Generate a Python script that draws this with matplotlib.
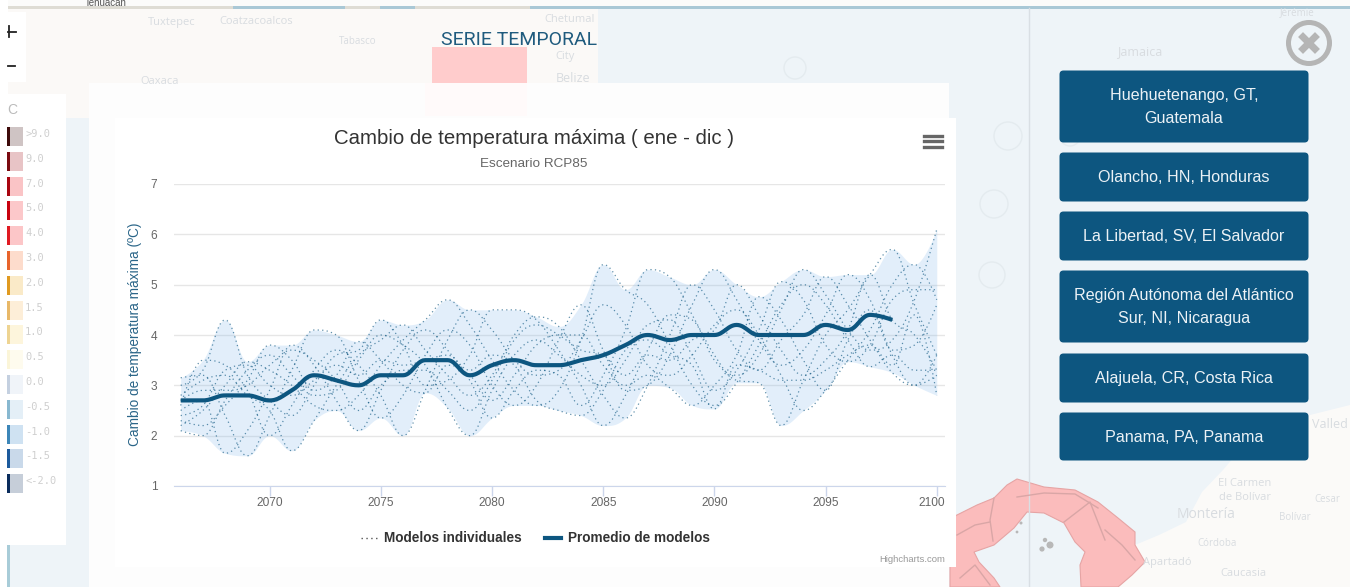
import matplotlib
matplotlib.use('Agg')
import matplotlib.pyplot as plt
from matplotlib.patches import Rectangle, FancyBboxPatch, Polygon, Circle
from matplotlib.lines import Line2D
from matplotlib.transforms import ScaledTranslation
import numpy as np

plt.rcParams['font.family'] = ['Liberation Sans', 'DejaVu Sans']

years = list(range(2066, 2101))
mean_years = list(range(2066, 2099))
mean_vals = [2.7, 2.7, 2.8, 2.8, 2.7, 2.9, 3.2, 3.1, 3.0, 3.2, 3.2, 3.5, 3.5, 3.2, 3.4, 3.5, 3.4,
             3.4, 3.5, 3.6, 3.8, 4.0, 3.9, 4.0, 4.0, 4.2, 4.0, 4.0, 4.0, 4.2, 4.1, 4.4, 4.3]
range_high = [3.15, 3.5, 4.3, 3.47, 3.8, 3.8, 4.1, 4.0, 3.87, 4.3, 4.2, 4.3, 4.7, 4.5, 4.5, 4.5, 4.36, 4.17,
              4.6, 5.4, 4.9, 5.3, 5.15, 5.0, 5.3, 5.0, 4.76, 5.06, 5.3, 5.16, 5.2, 5.2, 5.7, 5.4, 6.1]
range_low = [2.1, 2.0, 1.65, 1.6, 2.0, 1.7, 2.3, 2.5, 2.1, 2.35, 2.0, 2.85, 2.55, 2.0, 2.35, 2.6, 2.6, 2.5,
             2.4, 2.2, 2.35, 3.0, 2.95, 2.6, 2.53, 3.05, 3.05, 2.2, 2.5, 2.9, 3.47, 3.37, 3.25, 3.0, 2.8]

model_a = [3.0, 3.3, 4.3, 3.2, 2.7, 2.4, 3.0, 3.6, 3.7, 4.3, 3.8, 3.0, 3.1, 3.6, 4.5, 4.5, 4.3, 3.7,
           3.0, 2.2, 2.8, 3.7, 4.4, 4.3, 3.5, 3.2, 3.6, 4.5, 5.3, 4.8, 4.1, 3.7, 3.9, 4.7, 6.1]
model_b = [2.2, 2.5, 3.0, 3.47, 3.3, 3.0, 2.6, 2.5, 2.8, 3.4, 3.9, 4.3, 4.7, 4.2, 3.5, 2.9, 2.6, 2.9,
           3.9, 5.4, 4.9, 4.6, 3.8, 3.0, 2.6, 3.05, 3.8, 4.6, 5.0, 4.6, 3.9, 3.37, 3.6, 3.3, 3.3]
model_c = [2.6, 3.5, 3.4, 2.9, 2.0, 2.6, 3.3, 3.7, 3.4, 2.8, 2.0, 2.9, 3.9, 4.5, 4.1, 3.5, 3.2, 3.3,
           3.9, 4.6, 4.2, 3.4, 3.2, 3.6, 4.2, 4.5, 4.0, 3.2, 2.5, 2.9, 3.5, 4.1, 5.0, 5.4, 4.7]
model_d = [3.15, 3.2, 2.4, 1.6, 2.4, 3.3, 4.1, 4.0, 3.1, 2.35, 2.8, 3.6, 4.1, 3.8, 3.0, 2.6, 3.0, 3.9,
           4.6, 3.7, 2.9, 3.0, 3.6, 4.6, 5.3, 4.7, 3.9, 3.4, 3.7, 4.4, 5.2, 4.7, 3.6, 3.0, 3.6]
model_e = [2.1, 2.0, 2.7, 3.3, 3.6, 3.2, 2.8, 2.9, 3.5, 4.0, 3.8, 3.4, 2.55, 2.0, 2.9, 3.6, 3.9, 3.6,
           3.2, 3.0, 3.5, 4.2, 4.3, 3.6, 2.9, 3.3, 4.1, 5.06, 4.7, 3.8, 3.47, 3.8, 4.7, 4.9, 4.9]
model_f = [2.5, 2.7, 1.65, 2.1, 2.9, 3.8, 3.4, 2.7, 2.1, 2.9, 3.7, 4.1, 3.7, 3.1, 2.35, 2.9, 3.3, 3.2,
           2.6, 3.2, 4.1, 5.3, 5.15, 4.4, 3.6, 3.1, 3.05, 2.2, 3.1, 4.0, 4.5, 5.2, 5.7, 4.6, 3.6]
model_g = [2.8, 3.1, 3.2, 2.8, 2.5, 1.7, 2.3, 3.0, 3.6, 3.9, 4.2, 3.7, 3.2, 2.8, 3.2, 4.0, 4.36, 4.17,
           3.5, 2.8, 2.35, 3.0, 4.0, 5.0, 4.5, 3.7, 3.3, 3.9, 4.4, 5.16, 4.6, 3.9, 3.25, 3.0, 3.2]
model_h = [2.3, 2.2, 2.6, 3.1, 3.8, 3.5, 2.9, 3.2, 3.87, 3.5, 3.0, 2.85, 3.4, 3.2, 2.7, 3.2, 3.8, 4.0,
           4.0, 3.4, 3.0, 3.2, 2.95, 2.6, 3.0, 3.6, 4.76, 4.3, 3.5, 2.9, 3.9, 4.5, 3.7, 3.8, 4.6]
model_i = [2.7, 2.9, 2.9, 3.0, 3.4, 3.7, 3.5, 3.1, 2.5, 3.0, 3.3, 3.3, 2.9, 2.5, 3.1, 3.9, 4.2, 4.0,
           3.7, 3.6, 3.2, 3.6, 3.5, 3.9, 4.1, 5.0, 4.4, 3.7, 3.2, 3.5, 4.1, 5.2, 4.3, 4.0, 3.3]
model_j = [2.4, 2.6, 3.3, 3.4, 3.0, 2.8, 3.1, 3.4, 3.2, 3.5, 3.4, 3.5, 3.6, 3.3, 3.6, 3.4, 2.7, 2.5,
           2.4, 2.9, 3.7, 3.9, 3.6, 3.4, 2.53, 3.4, 3.3, 3.1, 3.1, 3.3, 3.6, 3.8, 3.4, 4.4, 2.8]
models = [model_a, model_b, model_c, model_d, model_e, model_f, model_g, model_h, model_i, model_j]

x_ticks = [2070, 2075, 2080, 2085, 2090, 2095, 2100]
y_ticks = [1, 2, 3, 4, 5, 6, 7]
legend_labels = ['>9.0', '9.0', '7.0', '5.0', '4.0', '3.0', '2.0', '1.5', '1.0', '0.5', '0.0', '-0.5', '-1.0', '-1.5', '<-2.0']
legend_dark = ['#3d0a0a', '#7a0a10', '#a80510', '#c8020f', '#e01a22', '#e8642c', '#e09a20', '#e8b868', '#eed492',
               '#fbf5d8', '#c4d0e0', '#88b8d0', '#3c86b8', '#1c5a9c', '#0a2c5c']
legend_light = ['#cfc4c4', '#e8c4c6', '#fac4c6', '#fcc8ca', '#fcc6c8', '#fddccc', '#faeac8', '#fdeed8', '#fdf5dc',
                '#fefbee', '#f0f4f9', '#e4eff7', '#cfe2f2', '#c9d9ea', '#c6ced9']
buttons = [(71, 142, 'Huehuetenango, GT,\nGuatemala'), (153, 201, 'Olancho, HN, Honduras'),
           (212, 260, 'La Libertad, SV, El Salvador'), (271, 342, 'Región Autónoma del Atlántico\nSur, NI, Nicaragua'),
           (354, 402, 'Alajuela, CR, Costa Rica'), (413, 460, 'Panama, PA, Panama')]
map_names = [(172, 22, 'Tuxtepec', 8), (256, 21, 'Coatzacoalcos', 8), (358, 41, 'Tabasco', 7), (570, 19, 'Chetumal', 8),
             (565, 56, 'City', 8), (573, 79, 'Belize', 9), (160, 81, 'Oaxaca', 8), (1140, 52, 'Jamaica', 9),
             (1330, 425, 'Valled', 9), (1245, 484, 'El Carmen', 8), (1245, 497, 'de Bolívar', 8), (1206, 515, 'Montería', 10),
             (1295, 517, 'Bolívar', 7), (1217, 544, 'Córdoba', 7), (1243, 574, 'Caucasia', 8), (1167, 562, 'Apartadó', 8),
             (1327, 499, 'Cesar', 7), (1297, 13, 'Jérémie', 7)]


def spline(x, y, smooth=1.5):
    # same control points as a highcharts spline
    xs, ys = [], []
    x = list(x)
    y = list(y)
    cp = []
    for i in range(len(x)):
        if i == 0 or i == len(x) - 1:
            cp.append((x[i], y[i], x[i], y[i]))
            continue
        lx = (smooth * x[i] + x[i - 1]) / (smooth + 1)
        ly = (smooth * y[i] + y[i - 1]) / (smooth + 1)
        rx = (smooth * x[i] + x[i + 1]) / (smooth + 1)
        ry = (smooth * y[i] + y[i + 1]) / (smooth + 1)
        if rx != lx:
            c = (ry - ly) / (rx - lx)
            ly = c * (lx - x[i]) + y[i]
            ry = c * (rx - x[i]) + y[i]
        if ly > max(y[i - 1], y[i]):
            ly = max(y[i - 1], y[i])
            ry = 2 * y[i] - ly
        elif ly < min(y[i - 1], y[i]):
            ly = min(y[i - 1], y[i])
            ry = 2 * y[i] - ly
        if ry > max(y[i + 1], y[i]):
            ry = max(y[i + 1], y[i])
            ly = 2 * y[i] - ry
        elif ry < min(y[i + 1], y[i]):
            ry = min(y[i + 1], y[i])
            ly = 2 * y[i] - ry
        cp.append((lx, ly, rx, ry))
    t = np.linspace(0, 1, 16)
    for i in range(len(x) - 1):
        x0, y0 = x[i], y[i]
        x3, y3 = x[i + 1], y[i + 1]
        x1, y1 = cp[i][2], cp[i][3]
        x2, y2 = cp[i + 1][0], cp[i + 1][1]
        xs.extend((1 - t) ** 3 * x0 + 3 * (1 - t) ** 2 * t * x1 + 3 * (1 - t) * t ** 2 * x2 + t ** 3 * x3)
        ys.extend((1 - t) ** 3 * y0 + 3 * (1 - t) ** 2 * t * y1 + 3 * (1 - t) * t ** 2 * y2 + t ** 3 * y3)
    return np.array(xs), np.array(ys)


fig = plt.figure(figsize=(13.5, 5.87), dpi=100)
fig.patch.set_facecolor('#eef4f8')

# page behind the chart, in pixels
bg = fig.add_axes([0, 0, 1, 1], zorder=0)
bg.set_xlim(0, 1350)
bg.set_ylim(587, 0)
bg.axis('off')

bg.add_patch(Rectangle((0, 0), 1350, 6, fc='#fbfbfa', ec='none'))
bg.add_patch(Rectangle((8, 8), 590, 110, fc='#fbf9f7', ec='none'))
bg.add_patch(Rectangle((0, 5.5), 1350, 3, fc='#a9c8d6', ec='none'))
bg.add_patch(Rectangle((8, 5.5), 225, 3, fc='#dedcd4', ec='none'))
bg.add_patch(Rectangle((345, 5.5), 35, 3, fc='#dedcd4', ec='none'))
bg.add_patch(Rectangle((415, 5.5), 115, 3, fc='#dedcd4', ec='none'))
bg.text(106, 3, 'Tehuacán', fontsize=7, color='#555555', ha='center', va='center')
bg.add_patch(Rectangle((0, 0), 8, 587, fc='#ffffff', ec='none'))
bg.add_patch(Rectangle((7, 545), 3, 42, fc='#a8ccd8', ec='none'))
bg.add_patch(Rectangle((66, 120), 24, 467, fc='#eef4f8', ec='none'))
bg.add_patch(Rectangle((432, 47), 95, 36, fc='#ffcccc', ec='none'))
bg.add_line(Line2D([1029, 1029], [8, 587], color='#d9dfe4', lw=1))
# colombia side
bg.add_patch(Polygon([(1135, 545), (1159, 535), (1186, 522), (1202, 492), (1223, 470), (1240, 450), (1310, 415),
                      (1350, 405), (1350, 587), (1118, 587)], fc='#fbfaf8', ec='none'))
# panama
bg.add_patch(Polygon([(950, 518), (957, 515), (977, 505), (994, 498), (1007, 485), (1017, 479), (1044, 487), (1075, 490),
                      (1098, 502), (1118, 518), (1135, 532), (1135, 545), (1145, 562), (1132, 575), (1118, 587),
                      (1081, 587), (1080, 565), (1085, 552), (1075, 542), (1064, 523), (1044, 513), (1027, 512),
                      (1014, 528), (994, 545), (974, 552), (979, 562), (994, 578), (1000, 587), (950, 587)],
                     fc='#fbbcbc', ec='#e6a4a4', lw=0.8))
for bx, by in [([994, 990, 993], [498, 520, 541]), ([1017, 1044, 1075, 1098], [497, 493, 494, 508]),
               ([1064, 1090, 1105], [522, 502, 540]), ([1105, 1122, 1135], [530, 545, 560]),
               ([957, 975, 990], [535, 525, 522]), ([960, 975, 990], [578, 565, 585])]:
    bg.add_line(Line2D(bx, by, color='#d9a6a6', lw=1))
for cx, cy, r in [(1045, 540, 2.2), (1050, 545, 3.5), (1042, 549, 2.6), (1021, 523, 1.5), (1017, 532, 1.4)]:
    bg.add_patch(Circle((cx, cy), r, fc='#b8b8b8', ec='none'))
for nx, ny, name, size in map_names:
    bg.text(nx, ny, name, fontsize=size, color='#d8dce0', ha='center', va='center', family='Open Sans')
for cx, cy, r in [(1008, 136, 14), (994, 204, 14), (992, 275, 13), (795, 68, 11), (1070, 136, 10)]:
    bg.add_patch(Circle((cx, cy), r, fc='none', ec='#e4ebef', lw=1))

# zoom control and colour legend
bg.add_patch(Rectangle((8, 12), 18, 70, fc='#ffffff', ec='none'))
bg.add_line(Line2D([8, 16], [32, 32], color='#222222', lw=1.3))
bg.add_line(Line2D([9, 9], [26, 37], color='#222222', lw=1.3))
bg.add_line(Line2D([8, 15], [66, 66], color='#222222', lw=1.3))
bg.add_patch(Rectangle((8, 94), 58, 451, fc='#ffffff', ec='none'))
bg.text(7, 110, 'C', fontsize=10, color='#bbbbbb', va='center')
for i in range(len(legend_labels)):
    top = 127 + i * 24.8
    bg.add_patch(Rectangle((7, top), 3, 19, fc=legend_dark[i], ec='none'))
    bg.add_patch(Rectangle((10, top), 13, 19, fc=legend_light[i], ec='none'))
    bg.text(25, top + 7, legend_labels[i], fontsize=7.5, color='#cfcfcf', va='center', family='DejaVu Sans Mono')

# chart card
bg.add_patch(Rectangle((89, 83), 860, 504, fc='#fdfdfd', ec='none'))
bg.add_patch(Rectangle((425, 83), 102, 33, fc='#fffafa', ec='none'))
bg.add_patch(Rectangle((115, 118), 841, 449, fc='#ffffff', ec='none'))

bg.text(519, 40, 'SERIE TEMPORAL', fontsize=14, color='#1f5b7e', ha='center', va='center', family='Roboto')
bg.text(534, 138, 'Cambio de temperatura máxima ( ene - dic )', fontsize=14.7, color='#333333', ha='center', va='center')
bg.text(534, 164, 'Escenario RCP85', fontsize=9.7, color='#666666', ha='center', va='center')
for my in [135.5, 141, 146.5]:
    bg.add_line(Line2D([924, 942], [my, my], color='#666666', lw=2.4))
bg.text(135, 334, 'Cambio de temperatura máxima (ºC)', fontsize=9.8, color='#2a6588', rotation=90, ha='center', va='center')
bg.add_line(Line2D([361, 377], [538, 538], color='#555555', lw=1, ls=(0, (1, 2.5))))
bg.text(384, 538, 'Modelos individuales', fontsize=9.8, color='#333333', fontweight='bold', va='center')
bg.add_line(Line2D([545, 561], [538, 538], color='#0d5680', lw=3))
bg.text(568, 538, 'Promedio de modelos', fontsize=9.8, color='#333333', fontweight='bold', va='center')
bg.text(945, 559, 'Highcharts.com', fontsize=6.8, color='#999999', ha='right', va='center')

# site buttons
for top, bottom, label in buttons:
    bg.add_patch(FancyBboxPatch((1062, top + 2), 244, bottom - top - 4, boxstyle='round,pad=2.5,rounding_size=4',
                                fc='#0d5680', ec='none'))
    bg.text(1184, (top + bottom) / 2 + 0.5, label, fontsize=11.6, color='#ecf2f6', ha='center', va='center', linespacing=1.65)

# close button
bg.add_patch(Circle((1309, 43), 20.5, fc='none', ec='#b5b5b5', lw=3.6))
bg.add_line(Line2D([1303, 1315], [37, 49], color='#b5b5b5', lw=5))
bg.add_line(Line2D([1303, 1315], [49, 37], color='#b5b5b5', lw=5))

# chart itself
ax = fig.add_axes([174 / 1350, 1 - 486 / 587, (945 - 174) / 1350, (486 - 184) / 587], zorder=1)
ax.patch.set_alpha(0)
ax.set_xlim(2065.7, 2100.37)
ax.set_ylim(1, 7)

hx, hy = spline(years, range_high)
lx, ly = spline(years, range_low)
ax.fill_between(hx, hy, ly, color='#7cb5ec', alpha=0.22, lw=0, zorder=2)
for m in models:
    mx, my = spline(years, m)
    ax.plot(mx, my, color='#0d5680', lw=0.9, ls=(0, (1, 2.6)), alpha=0.65, zorder=3)
ax.plot(*spline(mean_years, mean_vals), color='#0d5680', lw=3, zorder=4, solid_capstyle='butt')

ax.set_xticks(x_ticks)
ax.set_yticks(y_ticks)
ax.tick_params(axis='x', length=7, width=1, color='#ccd6eb', labelcolor='#666666', labelsize=8.6, pad=1, direction='out')
ax.tick_params(axis='y', length=0, labelcolor='#666666', labelsize=8.6, pad=12)
last = ax.get_xticklabels()[-1]
last.set_transform(last.get_transform() + ScaledTranslation(-5 / 100, 0, fig.dpi_scale_trans))
ax.grid(axis='y', color='#e6e6e6', lw=1)
ax.set_axisbelow(True)
for s in ['top', 'left', 'right']:
    ax.spines[s].set_visible(False)
ax.spines['bottom'].set_color('#ccd6eb')

plt.savefig('out.png', dpi=100)
